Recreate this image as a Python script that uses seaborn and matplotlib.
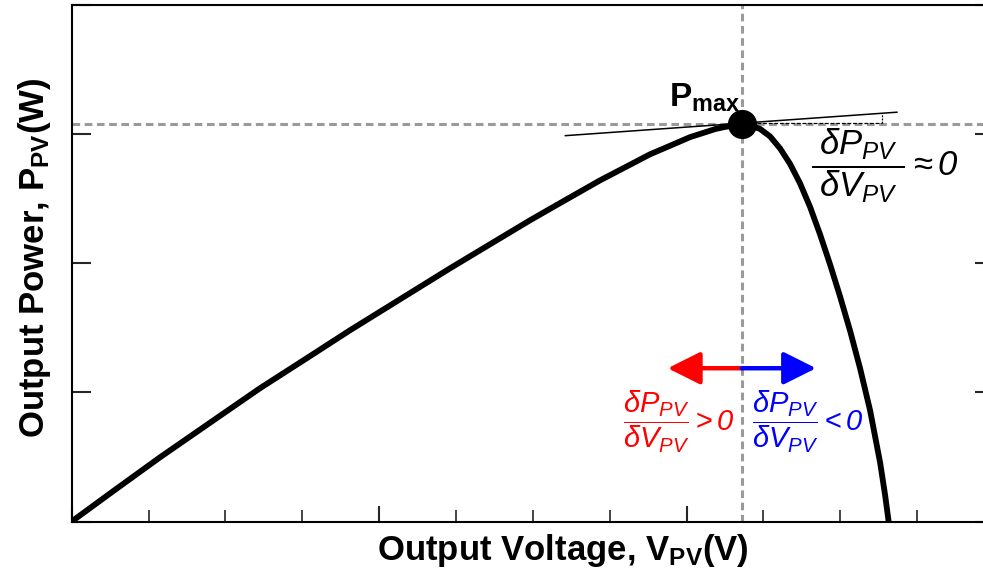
import numpy as np
import pandas as pd
import matplotlib
matplotlib.use('Agg')
import matplotlib.pyplot as plt
import seaborn as sns
from matplotlib.patches import FancyArrowPatch

# ---- data (arbitrary units: 12 minor x-divisions, 4 y-divisions)
voltage = [0.0, 0.563, 1.149, 1.800, 2.450, 3.036, 3.621, 4.272, 4.923, 5.443,
           5.964, 6.354, 6.874, 7.200, 7.525, 7.785, 8.046, 8.241, 8.371, 8.501,
           8.631, 8.718, 8.826, 8.957, 9.087, 9.217, 9.347, 9.477, 9.607, 9.737,
           9.867, 9.997, 10.128, 10.258, 10.388, 10.518, 10.583, 10.629]
power = [0.0, 0.245, 0.497, 0.765, 1.032, 1.256, 1.481, 1.721, 1.961, 2.147,
         2.333, 2.466, 2.642, 2.743, 2.844, 2.910, 2.977, 3.014, 3.039, 3.056,
         3.069, 3.074, 3.067, 3.040, 2.982, 2.889, 2.769, 2.618, 2.436, 2.223,
         1.991, 1.743, 1.476, 1.185, 0.860, 0.457, 0.205, 0.0]
v_mpp = 8.718
p_max = 3.08
tangent_v = [6.42, 10.74]
tangent_p = [2.988, 3.170]
x_major = [0, 4, 8, 12]
x_minor = list(range(0, 13))
y_ticks = [0, 1, 2, 3, 4]

sns.set_style('ticks')
plt.rcParams['font.family'] = ['Liberation Sans', 'DejaVu Sans']
plt.rcParams['mathtext.fontset'] = 'custom'
plt.rcParams['mathtext.rm'] = 'Liberation Sans'
plt.rcParams['mathtext.it'] = 'Liberation Sans:italic'
plt.rcParams['mathtext.sf'] = 'Liberation Sans:italic'
plt.rcParams['mathtext.bf'] = 'Liberation Sans:bold'
plt.rcParams['mathtext.default'] = 'it'
plt.rcParams['text.color'] = 'black'
plt.rcParams['axes.labelcolor'] = 'black'

fig = plt.figure(figsize=(9.83, 5.76), dpi=100)
ax = fig.add_axes([0.0729, 0.0946, 0.9383, 0.8967])

df = pd.DataFrame({'V': voltage, 'P': power})
sns.lineplot(data=df, x='V', y='P', ax=ax, color='black', lw=4.2, sort=False,
             zorder=3, solid_capstyle='round', solid_joinstyle='round')

gray = '#9a9a9a'
ax.axhline(p_max, color=gray, lw=2.2, ls=(0, (2.5, 1.5)), zorder=1)
ax.axvline(v_mpp, color=gray, lw=2.2, ls=(0, (2.5, 1.5)), zorder=1)

# tangent line at Pmax
ax.plot(tangent_v, tangent_p, color='black', lw=1.1, zorder=4)
ax.plot([8.91, 10.54], [3.087, 3.087], color='black', lw=0.9, ls=(0, (3, 1.5)), zorder=4)
ax.plot([10.54, 10.54], [3.087, 3.158], color='black', lw=0.9, ls=(0, (1.5, 1)), zorder=4)

# Pmax dot
ax.plot([v_mpp], [p_max], 'o', ms=20, color='black', zorder=6)

# arrows
arr_y = 1.187
ax.add_patch(FancyArrowPatch((v_mpp, arr_y), (7.755, arr_y),
                             arrowstyle='-|>,head_length=0.8,head_width=0.4',
                             mutation_scale=25, color='red', lw=3.2,
                             shrinkA=0, shrinkB=0, zorder=5))
ax.add_patch(FancyArrowPatch((v_mpp, arr_y), (9.685, arr_y),
                             arrowstyle='-|>,head_length=0.8,head_width=0.4',
                             mutation_scale=25, color='blue', lw=3.2,
                             shrinkA=0, shrinkB=0, zorder=5))

# texts
ax.text(8.70, 3.211, r'$\mathbf{P_{max}}$', fontsize=24, ha='right', va='baseline', zorder=7)
ax.text(9.62, 2.754, r'$\dfrac{\;\delta P_{PV}\;}{\;\delta V_{PV}\;}\approx \mathsf{0}$',
        fontsize=25, ha='left', va='center', color='black')
ax.text(7.175, 0.771, r'$\dfrac{\delta P_{PV}}{\delta V_{PV}}> \mathsf{0}$',
        fontsize=21, ha='left', va='center', color='red')
ax.text(8.852, 0.771, r'$\dfrac{\delta P_{PV}}{\delta V_{PV}}< \mathsf{0}$',
        fontsize=21, ha='left', va='center', color='blue')

ax.set_xlim(0, 12)
ax.set_ylim(0, 4)
ax.set_xticks(x_major)
ax.set_xticks(x_minor, minor=True)
ax.set_yticks(y_ticks)
ax.tick_params(axis='x', which='major', direction='in', length=11.5, width=1.5,
               labelbottom=False, bottom=True, top=False)
ax.tick_params(axis='x', which='minor', direction='in', length=8.6, width=1.2,
               bottom=True, top=False)
ax.tick_params(axis='y', which='major', direction='in', length=14, width=1.5,
               left=True, right=True, labelleft=False, labelright=False)
for s in ax.spines.values():
    s.set_linewidth(1.5)
    s.set_color('black')

ax.set_xlabel(r'Output Voltage, V$_{\mathbf{PV}}$(V)', fontsize=25, fontweight='bold')
ax.set_ylabel(r'Output Power, P$_{\mathbf{PV}}$(W)', fontsize=25, fontweight='bold')
ax.xaxis.label.set_va('center')
ax.yaxis.label.set_va('center')
ax.xaxis.set_label_coords(0.533, -0.057)
ax.yaxis.set_label_coords(-0.040, 0.511)

fig.savefig('out.png', dpi=100)
